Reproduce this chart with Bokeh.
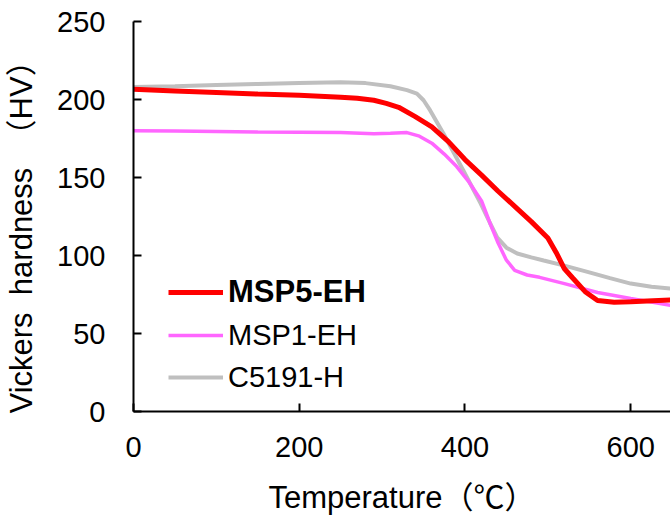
from bokeh.plotting import figure
from bokeh.models import Legend, LegendItem, Range1d, FixedTicker
from bokeh.embed import file_html
from bokeh.resources import INLINE

# ---- data ----
msp5_x = [0, 50, 100, 150, 200, 250, 270, 290, 305, 320, 340, 360, 380, 400, 420, 440, 460,
          480, 500, 510, 520, 530, 545, 560, 580, 600, 620, 648]
msp5_y = [206.5, 205.5, 204.5, 203.5, 202.8, 201.5, 200.8, 199.5, 197.5, 195, 189, 182.5,
          173, 161.5, 151.5, 141.2, 131.5, 121.7, 111.2, 102, 91.5, 85.6, 76.8, 71.2, 70,
          70.3, 70.8, 71.5]

msp1_x = [0, 50, 100, 150, 200, 250, 290, 310, 330, 345, 360, 375, 390, 405, 420, 430,
          440, 450, 460, 475, 490, 520, 560, 600, 648]
msp1_y = [180, 179.8, 179.5, 179.2, 179, 178.8, 178, 178.3, 178.8, 176.5, 172, 165, 157,
          147, 135, 121, 108, 97, 90.5, 87.5, 86, 82, 76.3, 72.4, 68]

c5191_x = [0, 50, 100, 150, 200, 250, 280, 310, 330, 342, 350, 358, 374, 398, 419, 430,
           439, 450, 463, 480, 495, 520, 550, 575, 600, 625, 648]
c5191_y = [208, 208.5, 209.3, 210, 210.5, 211, 210.5, 208.5, 206, 203.8, 199.5, 193,
           178.2, 154.5, 133.3, 121, 111.5, 105, 101.3, 98.8, 96.8, 93.5, 89.2, 85.5, 82,
           80, 78.8]

x_ticks = [0, 200, 400, 600]
y_ticks = [0, 50, 100, 150, 200, 250]

series_names = ["MSP5-EH", "MSP1-EH", "C5191-H"]
x_title = "Temperature（℃）"
y_title = "Vickers\u00a0\u00a0hardness\u00a0\u00a0（HV）"

FONT = "Liberation Sans, Noto Sans CJK JP"

p = figure(width=670, height=518, output_backend="svg", toolbar_location=None,
           x_range=Range1d(0, 648), y_range=Range1d(0, 250),
           min_border_left=133, min_border_top=21, min_border_bottom=107,
           min_border_right=0)
p.outline_line_color = None
p.xgrid.grid_line_color = None
p.ygrid.grid_line_color = None
p.background_fill_color = "white"
p.border_fill_color = "white"

r_gray = p.line(c5191_x, c5191_y, line_color="#BFBFBF", line_width=4)
r_pink = p.line(msp1_x, msp1_y, line_color="#FF66FF", line_width=3.5)
r_red = p.line(msp5_x, msp5_y, line_color="#FF0000", line_width=5)

for ax, ticks in ((p.xaxis, x_ticks), (p.yaxis, y_ticks)):
    ax.ticker = FixedTicker(ticks=ticks)
    ax.axis_line_width = 2
    ax.axis_line_color = "black"
    ax.major_tick_line_width = 2
    ax.major_tick_line_color = "black"
    ax.major_tick_in = 8
    ax.major_tick_out = 0
    ax.minor_tick_line_color = None
    ax.major_label_text_font = "Liberation Sans"
    ax.major_label_text_font_size = "29px"
    ax.major_label_text_color = "black"
    ax.axis_label_text_font = FONT
    ax.axis_label_text_font_size = "31px"
    ax.axis_label_text_font_style = "normal"
    ax.axis_label_text_color = "black"
    ax.axis_label_text_line_height = 1.0

p.xaxis.major_label_standoff = 25
p.yaxis.major_label_standoff = 28

p.xaxis.axis_label = x_title
p.xaxis.axis_label_standoff = 20
# trailing no-break spaces shift the centred title toward its start, as in the reference
p.yaxis.axis_label = y_title + "\u00a0\u00a0\u00a0"
p.yaxis.axis_label_standoff = 15

legA = Legend(items=[LegendItem(label=series_names[0], renderers=[r_red])],
              location=(35, 98), padding=0, margin=0, spacing=0,
              glyph_width=55, glyph_height=42, label_height=42, label_standoff=5,
              label_text_font="Liberation Sans", label_text_font_size="31px",
              label_text_font_style="bold", label_text_color="black",
              border_line_alpha=0, background_fill_alpha=0)
legB = Legend(items=[LegendItem(label=series_names[1], renderers=[r_pink]),
                     LegendItem(label=series_names[2], renderers=[r_gray])],
              location=(35, 13), padding=0, margin=0, spacing=0,
              glyph_width=55, glyph_height=42, label_height=42, label_standoff=5,
              label_text_font="Liberation Sans", label_text_font_size="29px",
              label_text_color="black",
              border_line_alpha=0, background_fill_alpha=0)
p.add_layout(legA)
p.add_layout(legB)

open("out.html", "w").write(file_html(p, INLINE))
